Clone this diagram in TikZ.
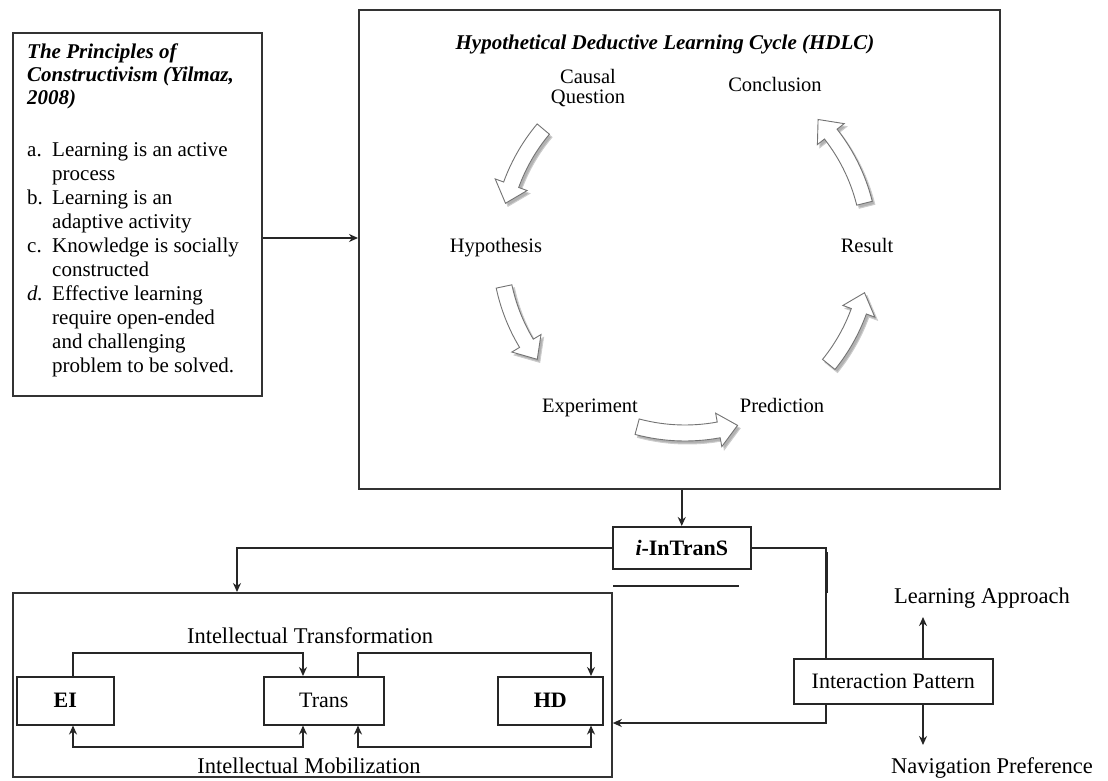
\documentclass[tikz,border=0pt]{standalone}
\usepackage{fontspec}
\setmainfont{Liberation Serif}
\usetikzlibrary{arrows.meta,calc}
\newcommand\cycR{185}
\newcommand\cycX{685}
\newcommand\cycY{248}
% #1 style, #2 start angle, #3 tip angle (screen angles, decreasing)
\newcommand\cyclearrow[3]{%
  \pgfmathsetmacro\hA{#3+6}%
  \path[#1] plot[domain=#2:\hA,samples=16] ({\cycX+(\cycR+8)*cos(\x)},{\cycY+(\cycR+8)*sin(\x)})
    -- ({\cycX+(\cycR+17)*cos(\hA)},{\cycY+(\cycR+17)*sin(\hA)})
    -- ({\cycX+\cycR*cos(#3)},{\cycY+\cycR*sin(#3)})
    -- ({\cycX+(\cycR-17)*cos(\hA)},{\cycY+(\cycR-17)*sin(\hA)})
    -- plot[domain=\hA:#2,samples=16] ({\cycX+(\cycR-8)*cos(\x)},{\cycY+(\cycR-8)*sin(\x)})
    -- cycle;}
\begin{document}
\begin{tikzpicture}[x=1pt,y=-1pt,
  frame/.style={draw=black!80, line width=1.8pt, inner sep=0pt},
  sbox/.style={draw=black!85, line width=1.5pt, inner sep=0pt, font=\fontsize{22}{24}\selectfont},
  conn/.style={draw=black!85, line width=1.5pt},
  arr/.style={conn, -{Stealth[length=9pt,width=8pt]}},
  darr/.style={conn, {Stealth[length=9pt,width=8pt]}-{Stealth[length=9pt,width=8pt]}},
  clbl/.style={inner sep=0pt, anchor=base, font=\fontsize{20.5}{20}\selectfont},
  blbl/.style={inner sep=0pt, anchor=base, font=\fontsize{22.5}{24}\selectfont},
  cshadow/.style={fill=black!30, draw=black!20, line width=1pt, shift={(2.5,3)}},
  cbody/.style={fill=white, draw=black!55, line width=0.9pt},
]
\fill[white] (0,0) rectangle (1108,781);
\useasboundingbox (0,0) rectangle (1108,781);

% ---------- Principles box ----------
\node[frame, minimum width=249pt, minimum height=363pt, anchor=north west] (prin) at (12,32) {};
\node[anchor=north west, inner sep=0pt, font=\fontsize{21}{23}\selectfont\bfseries\itshape] (ptitle) at (27,42)
  {\begin{tabular}{@{}l@{}}The Principles of\\Constructivism (Yilmaz,\\2008)\end{tabular}};
\node[anchor=north west, inner sep=0pt, font=\fontsize{21}{24.1}\selectfont] (plist) at (27,139)
  {\begin{tabular}{@{}p{25pt}@{}l@{}}
  a. & Learning is an active\\
     & process\\
  b. & Learning is an\\
     & adaptive activity\\
  c. & Knowledge is socially\\
     & constructed\\
  \textit{d.} & Effective learning\\
     & require open-ended\\
     & and challenging\\
     & problem to be solved.
  \end{tabular}};

% ---------- HDLC box ----------
\node[frame, minimum width=641pt, minimum height=479pt, anchor=north west] (hdlc) at (358,9) {};
\node[inner sep=0pt, anchor=base, font=\fontsize{21}{24}\selectfont\bfseries\itshape] (htitle) at (665,50)
  {Hypothetical Deductive Learning Cycle (HDLC)};
\node[inner sep=0pt, align=center, font=\fontsize{20.5}{20}\selectfont] (cq) at (588,88) {Causal\\Question};
\node[clbl] (concl) at (775,92) {Conclusion};
\node[clbl] (hyp) at (496,252) {Hypothesis};
\node[clbl] (res) at (867,252) {Result};
\node[clbl] (expm) at (590,412) {Experiment};
\node[clbl] (pred) at (782,412) {Prediction};

\foreach \a/\b in {220/194, 168/143, 105/73.5, 39/14, -14/-44}{
  \cyclearrow{cshadow}{\a}{\b}
  \cyclearrow{cbody}{\a}{\b}
}

\coordinate (a1) at (300,238);
\draw[arr] (prin.east |- a1) -- (hdlc.west |- a1);

% ---------- i-InTranS ----------
\node[sbox, minimum width=138pt, minimum height=42pt, anchor=north west, font=\fontsize{22}{24}\selectfont\bfseries] (intrans) at (612,526) {\textit{i}-InTranS};
\draw[arr] (hdlc.south -| intrans.north) -- (intrans.north);

% ---------- bottom box ----------
\node[frame, minimum width=599pt, minimum height=184pt, anchor=north west] (bot) at (12,592) {};
\node[sbox, minimum width=97pt, minimum height=48pt, anchor=north west, font=\fontsize{22}{24}\selectfont\bfseries] (ei) at (16,676) {EI};
\node[sbox, minimum width=120pt, minimum height=48pt, anchor=north west] (trans) at (263,676) {Trans};
\node[sbox, minimum width=105pt, minimum height=48pt, anchor=north west, font=\fontsize{22}{24}\selectfont\bfseries] (hd) at (497,676) {HD};
\node[blbl] (itl) at (310,643) {Intellectual Transformation};
\node[blbl] (iml) at (309,773) {Intellectual Mobilization};

\coordinate (xa) at (73,653);
\coordinate (xb) at (303,653);
\coordinate (xc) at (358,653);
\coordinate (xd) at (591,653);
\coordinate (ya) at (73,747);
\coordinate (yb) at (303,747);
\coordinate (yc) at (358,747);
\coordinate (yd) at (591,747);
\draw[arr] (ei.north -| xa) |- (xb) -- (trans.north -| xb);
\draw[arr] (trans.north -| xc) |- (xd) -- (hd.north -| xd);
\draw[darr] (ei.south -| ya) |- (yb) -- (trans.south -| yb);
\draw[darr] (trans.south -| yc) |- (yd) -- (hd.south -| yd);

\coordinate (c1) at (237,560);
\draw[arr] (intrans.west) -| (c1 |- bot.north);

% ---------- Interaction pattern ----------
\node[sbox, minimum width=199pt, minimum height=45pt, anchor=north west] (inter) at (793,658) {Interaction Pattern};
\coordinate (c2) at (826,600);
\draw[conn] (intrans.east) -| (c2 |- inter.north);
\coordinate (b1) at (826,552);
\coordinate (b2) at (826,593);
\draw[draw=black!85, line width=3pt] (b1) -- (b2);
\coordinate (s1) at (613,586);
\coordinate (s2) at (739,586);
\draw[conn] (s1) -- (s2);
\coordinate (c3) at (700,723);
\draw[arr] (c2 |- inter.south) |- (bot.east |- c3);

\coordinate (latip) at (923,617);
\coordinate (nptip) at (923,745);
\draw[arr] (inter.north -| latip) -- (latip);
\draw[arr] (inter.south -| nptip) -- (nptip);
\node[blbl] (la) at (982,603) {Learning Approach};
\node[blbl] (np) at (992,773) {Navigation Preference};
\end{tikzpicture}
\end{document}
